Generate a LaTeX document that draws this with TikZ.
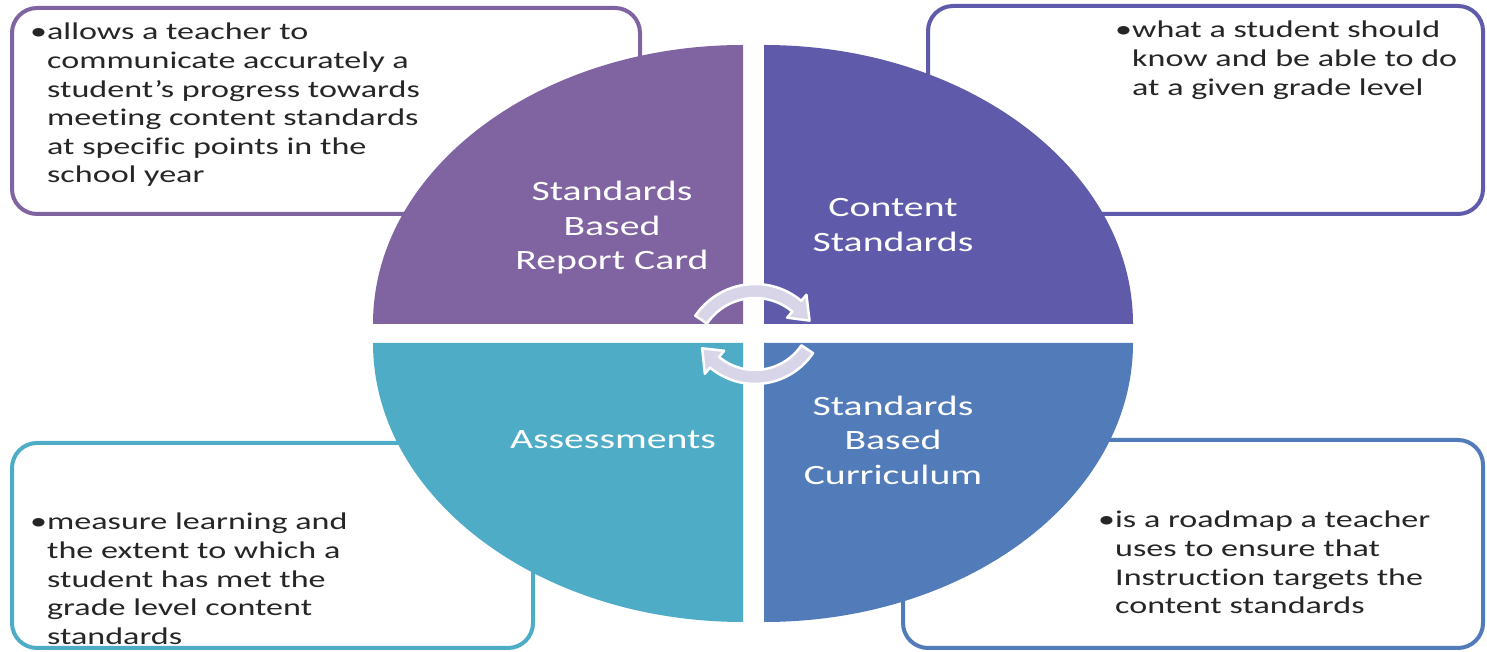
\documentclass[tikz,border=0pt]{standalone}
\usepackage{fontspec}
\setmainfont{Carlito}[FakeStretch=1.42,Ligatures=NoCommon]
\usetikzlibrary{positioning}
\definecolor{cardpurple}{HTML}{8064A2}
\definecolor{contentblue}{HTML}{5F5BAA}
\definecolor{currblue}{HTML}{527BBA}
\definecolor{assessteal}{HTML}{4FACC6}
\definecolor{cyclegray}{HTML}{D8D5E8}

\begin{document}
\begin{tikzpicture}
[x=1pt,y=1pt,
 infobox/.style={draw=#1,line width=4pt,rounded corners=25pt,fill=white,inner sep=0pt},
 quarter/.style={fill=#1,draw=none},
 boxtext/.style={inner sep=0pt,anchor=base west,text=black!85,font=\fontsize{24}{28.6}\selectfont},
 label/.style={inner sep=0pt,align=center,text=white,font=\fontsize{28}{34.5}\selectfont},
 cycle/.style={fill=cyclegray,draw=white,line width=2.5pt,line join=round}]
\useasboundingbox (0,0) rectangle (1487,652);

% boxes behind the circle
\node[infobox=cardpurple,minimum width=628,minimum height=206] (cardbox) at (326,541) {};
\node[infobox=contentblue,minimum width=555,minimum height=208] (contentbox) at (1205.5,542) {};
\node[infobox=assessteal,minimum width=521,minimum height=205] (assessbox) at (272.5,106.5) {};
\node[infobox=currblue,minimum width=580,minimum height=208] (currbox) at (1193,108) {};

% the four quarters
\fill[quarter=cardpurple] (743,328) -- (373,328) arc[start angle=180,end angle=90,x radius=370,y radius=279] -- cycle;
\fill[quarter=contentblue] (764,328) -- (1133,328) arc[start angle=0,end angle=90,x radius=369,y radius=279] -- cycle;
\fill[quarter=assessteal] (743,309) -- (373,309) arc[start angle=180,end angle=270,x radius=370,y radius=279] -- cycle;
\fill[quarter=currblue] (764,309) -- (764,30) arc[start angle=270,end angle=360,x radius=369,y radius=279] -- cycle;

% cycle arrows
\coordinate (uptop) at (755,296);
\coordinate (downbot) at (755,338);
\begin{scope}[shift={(uptop)}]
\draw[cycle] (146:72) arc[start angle=146,end angle=50,radius=72] -- (50:80) -- (33:65) -- (50:50) -- (50:58) arc[start angle=50,end angle=146,radius=58] -- cycle;
\end{scope}
\begin{scope}[shift={(downbot)}]
\draw[cycle] (-34:70) arc[start angle=-34,end angle=-130,radius=70] -- (-130:78) -- (-147:63) -- (-130:48) -- (-130:56) arc[start angle=-130,end angle=-34,radius=56] -- cycle;
\end{scope}

% quarter labels
\node[label] (cardlabel) at (612,424) {Standards\\Based\\Report Card};
\node[label] (contentlabel) at (893,427) {Content\\Standards};
\node[label] (assesslabel) at (613,212) {Assessments};
\node[label] (currlabel) at (893,212) {Standards\\Based\\Curriculum};

% box texts
\node[boxtext] (cardtext) at (30,612) {\textbullet\begin{tabular}[t]{@{}l@{}}allows a teacher to\\communicate accurately a\\student’s progress towards\\meeting content standards\\at specific points in the\\school year\end{tabular}};
\node[boxtext] (contenttext) at (1115,614) {\textbullet\begin{tabular}[t]{@{}l@{}}what a student should\\know and be able to do\\at a given grade level\end{tabular}};
\node[boxtext] (assesstext) at (30,122) {\textbullet\begin{tabular}[t]{@{}l@{}}measure learning and\\the extent to which a\\student has met the\\grade level content\\standards\end{tabular}};
\node[boxtext] (currtext) at (1098,124) {\textbullet\begin{tabular}[t]{@{}l@{}}is a roadmap a teacher\\uses to ensure that\\Instruction targets the\\content standards\end{tabular}};
\end{tikzpicture}
\end{document}
